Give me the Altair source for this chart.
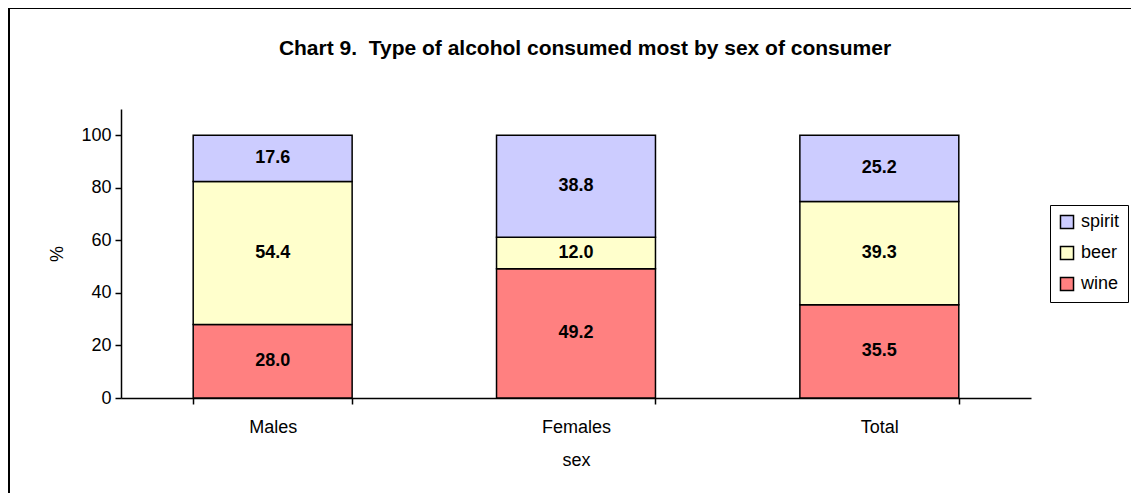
import altair as alt
import pandas as pd

sexes = ["Males", "Females", "Total"]
types = ["wine", "beer", "spirit"]
wine = [28.0, 49.2, 35.5]
beer = [54.4, 12.0, 39.3]
spirit = [17.6, 38.8, 25.2]
legend_order = ["spirit", "beer", "wine"]
colors = ["#CCCCFF", "#FFFFCC", "#FF8080"]

rows = []
for i, s in enumerate(sexes):
    for k, (t, vals) in enumerate(zip(types, [wine, beer, spirit])):
        rows.append({"sex": s, "type": t, "value": vals[i], "rank": k})
df = pd.DataFrame(rows)

W, H = 910, 289
PL, PT, PR, PB = 113, 101, 100, 95
FONT = "Liberation Sans"
FS = 18

base = alt.Chart(df).transform_stack(
    stack="value", groupby=["sex"], as_=["y0", "y1"], sort=[alt.SortField("rank", order="ascending")]
).transform_calculate(mid="(datum.y0 + datum.y1) / 2")

xenc = alt.X("sex:N", sort=sexes, title="sex",
             scale=alt.Scale(paddingInner=0.476, paddingOuter=0.238),
             axis=alt.Axis(labelAngle=0, tickBand="extent", labelFontSize=FS, titleFontSize=FS,
                           labelPadding=14, titlePadding=15, tickSize=6, labelFont=FONT, titleFont=FONT,
                           titleFontWeight="normal", domainColor="black", tickColor="black",
                           domainWidth=1.5, tickWidth=1.5, labelColor="black", titleColor="black"))

bars = base.mark_bar(stroke="black", strokeWidth=1.5).encode(
    x=xenc,
    y=alt.Y("y0:Q", title="%", scale=alt.Scale(domain=[0, 110], nice=False),
            axis=alt.Axis(values=[0, 20, 40, 60, 80, 100], grid=False, labelFontSize=FS, titleFontSize=FS,
                          tickSize=6, labelPadding=4, titlePadding=14, labelFont=FONT, titleFont=FONT,
                          titleFontWeight="normal", domainColor="black", tickColor="black",
                          domainWidth=1.5, tickWidth=1.5, labelColor="black", titleColor="black")),
    y2="y1:Q",
    color=alt.Color("type:N", scale=alt.Scale(domain=legend_order, range=colors),
                    legend=alt.Legend(title=None, orient="none", legendX=929, legendY=96,
                                      strokeColor="black", fillColor="white", padding=8,
                                      symbolType="square", symbolSize=170, symbolStrokeColor="black",
                                      symbolStrokeWidth=1.5, labelFontSize=FS, labelFont=FONT,
                                      labelColor="black", rowPadding=11, labelOffset=5, symbolOpacity=1)),
)

labels = base.mark_text(fontSize=FS, fontWeight="bold", font=FONT, color="black").encode(
    x=alt.X("sex:N", sort=sexes),
    y="mid:Q",
    text=alt.Text("value:Q", format=".1f"),
)

border = alt.Chart(alt.Data(values=[{}])).mark_rect(fill=None, stroke="black", strokeWidth=2).encode(
    x=alt.value(-112), x2=alt.value(W + PR + 20),
    y=alt.value(-101), y2=alt.value(H + PB + 20),
)

chart = alt.layer(border, bars, labels).properties(
    width=W, height=H,
    autosize=alt.AutoSizeParams(type="none"),
    padding={"left": PL, "top": PT, "right": PR, "bottom": PB},
    title=alt.TitleParams("Chart 9.\u00a0 Type of alcohol consumed most by sex of consumer",
                          fontSize=21, font=FONT, fontWeight="bold", color="black",
                          anchor="middle", frame="group", offset=-52, dx=9),
).configure_view(stroke=None).configure_axis(grid=False)

chart.save("out.html", embed_options={"renderer": "svg", "actions": False})
